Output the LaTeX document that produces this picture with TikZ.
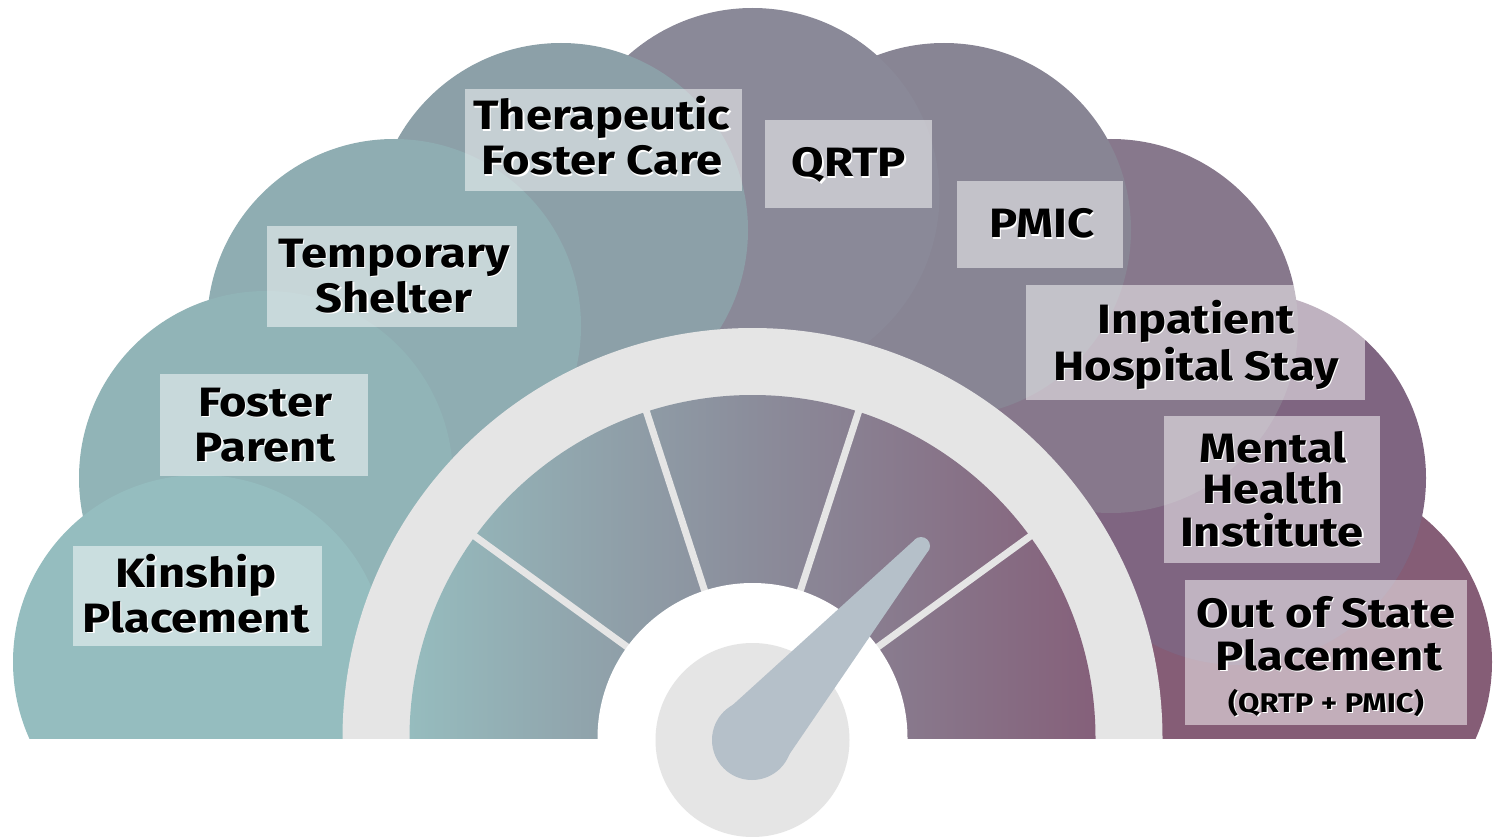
\documentclass[tikz,border=0pt]{standalone}
\usepackage{fontspec}
\newfontfamily\lblfont{Fira Sans}[FakeStretch=1.15]
\definecolor{cKin}{RGB}{149,189,191}
\definecolor{cFos}{RGB}{145,180,183}
\definecolor{cTem}{RGB}{143,173,178}
\definecolor{cThe}{RGB}{140,160,168}
\definecolor{cQRT}{RGB}{138,137,152}
\definecolor{cPMI}{RGB}{136,133,148}
\definecolor{cInp}{RGB}{135,120,140}
\definecolor{cMen}{RGB}{127,101,129}
\definecolor{cOut}{RGB}{133,93,118}
\definecolor{ringgray}{RGB}{229,229,229}
\definecolor{needlec}{RGB}{181,192,201}
\definecolor{gL}{RGB}{150,188,190}
\definecolor{gM}{RGB}{139,141,155}
\definecolor{gR}{RGB}{133,96,122}
\tikzset{
  cloud/.style={fill=#1},
  labelbox/.style={fill=white, fill opacity=0.5},
  txt/.style={font=\lblfont\bfseries\fontsize{#1}{#1}\selectfont, anchor=base, inner sep=0pt},
}
\newcommand\lbl[5]{%
  \node[txt=#4, text=white] at (#2+1.3,#3+1.3) {#5};
  \node[txt=#4, text=black] (#1) at (#2,#3) {#5};}
\begin{document}
\begin{tikzpicture}[x=1pt,y=-1pt]
\fill[white] (0,0) rectangle (1502,837);
\useasboundingbox (0,0) rectangle (1502,837);
\begin{scope}
  \clip (0,0) rectangle (1502,738);
  \fill[cloud=cOut] (1305,662) circle[radius=187pt];
  \fill[cloud=cMen] (1239,478) circle[radius=187pt];
  \fill[cloud=cInp] (1111,326) circle[radius=187pt];
  \fill[cloud=cPMI] (944,230) circle[radius=187pt];
  \fill[cloud=cQRT] (752.5,195) circle[radius=187pt];
  \fill[cloud=cThe] (561,230) circle[radius=187pt];
  \fill[cloud=cTem] (394,326) circle[radius=187pt];
  \fill[cloud=cFos] (266,478) circle[radius=187pt];
  \fill[cloud=cKin] (200,662) circle[radius=187pt];
  % gauge
  \fill[ringgray] (752.5,738) circle[radius=410pt];
  \shade[left color=gL, right color=gR, middle color=gM] (752.5,738) circle[radius=343pt];
  \foreach \a in {36,72,108,144}
    \draw[ringgray, line width=7pt] ({752.5+150*cos(\a)},{738-150*sin(\a)}) -- ({752.5+346*cos(\a)},{738-346*sin(\a)});
  \fill[white] (752.5,738) circle[radius=155pt];
\end{scope}
\fill[ringgray] (752.5,740) circle[radius=97pt];
% needle
\fill[needlec] (778.8,769.8) -- (927.0,552.7) -- (913.5,540.9) -- (718.9,717.5) -- cycle;
\fill[needlec] (752,740) circle[radius=40pt];
\fill[needlec] (921,546) circle[radius=9pt];
% boxes
\fill[labelbox] (73,546) rectangle (322,646);
\fill[labelbox] (160,374) rectangle (368,476);
\fill[labelbox] (267,226) rectangle (517,327);
\fill[labelbox] (465,89) rectangle (742,191);
\fill[labelbox] (765,120) rectangle (932,208);
\fill[labelbox] (957,181) rectangle (1123,268);
\fill[labelbox] (1026,285) rectangle (1365,400);
\fill[labelbox] (1164,416) rectangle (1380,563);
\fill[labelbox] (1185,580) rectangle (1467,725);
% labels
\lbl{kin1}{196}{587}{41}{Kinship}
\lbl{kin2}{196}{632}{41}{Placement}
\lbl{fos1}{265}{416}{41}{Foster}
\lbl{fos2}{265}{461}{41}{Parent}
\lbl{tem1}{394}{267}{41}{Temporary}
\lbl{tem2}{394}{312}{41}{Shelter}
\lbl{the1}{602}{130}{41}{Therapeutic}
\lbl{the2}{602}{175}{41}{Foster Care}
\lbl{qrtp}{849}{177}{41}{QRTP}
\lbl{pmic}{1042}{238}{41}{PMIC}
\lbl{inp1}{1196}{333}{41}{Inpatient}
\lbl{inp2}{1196}{380}{41}{Hospital Stay}
\lbl{men1}{1273}{462}{41}{Mental}
\lbl{men2}{1273}{503}{41}{Health}
\lbl{men3}{1272}{546}{41}{Institute}
\lbl{out1}{1326}{627}{41}{Out of State}
\lbl{out2}{1329}{670}{41}{Placement}
\lbl{out3}{1326}{712}{27}{(QRTP + PMIC)}
\end{tikzpicture}
\end{document}
